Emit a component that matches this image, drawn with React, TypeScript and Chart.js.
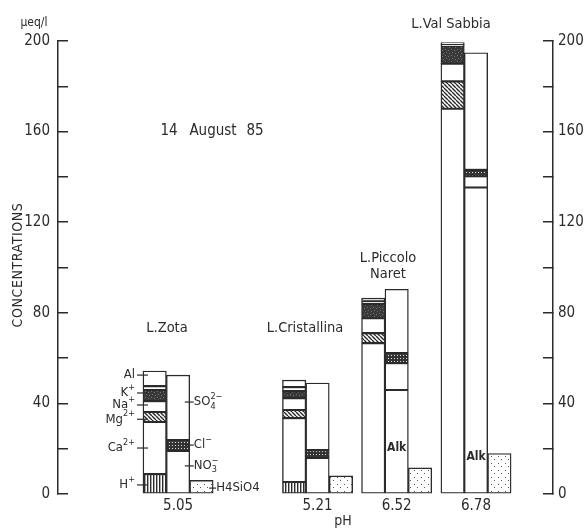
import React, { useEffect, useRef } from "react";
import { Chart, registerables } from "chart.js";

Chart.register(...registerables);

// ---------- data (µeq/l) ----------
const LAKES = ["L.Zota", "L.Cristallina", "L.Piccolo Naret", "L.Val Sabbia"];
const PH_LABELS = ["5.05", "5.21", "6.52", "6.78"];
const DATE_LABEL = ["14", "August", "85"];

// cations (bottom → top)
const H_ION = [8.8, 5.3, null, null];
const CA = [23.0, 28.2, 66.6, 170.1];
const MG = [4.4, 3.6, 4.4, 12.1];
const NA = [4.8, 5.2, 6.6, 7.8];
const K_ION = [4.9, 3.1, 6.2, 7.8];
const NH4 = [1.7, 1.8, 1.3, 0.6];
const AL = [6.7, 3.1, 1.4, 0.9];
// anions (bottom → top)
const ALK = [null, null, 45.9, 135.3];
const NO3 = [19.0, 15.9, 11.9, 5.0];
const CL = [4.8, 3.5, 4.4, 2.8];
const SO4 = [28.7, 29.6, 28.2, 51.7];
// silica
const H4SIO4 = [6.0, 8.0, 11.5, 17.9];

const Y_MIN = 0;
const Y_MAX = 200;
const Y_STEP = 20;
const Y_LABEL_STEP = 40;

// ---------- layout ----------
const W = 584;
const H = 530;
const FONT = "'DejaVu Sans Condensed', 'Liberation Sans', sans-serif";
const INK = "#2b2b2b";
const LAKE_AXIS_POS = [5.13, 11.09, 14.47, 17.86]; // anion-bar centre of each lake, in bar-width units
const X_MAX = 21.15;
const ALK_LABEL_AT = [null, null, 20.5, 16.5];
// where the ion names of the first lake sit (value units)
const CATION_LABEL_AT: Record<string, number> = { "H+": 4.0, "Ca2+": 20.3, "Mg2+": 33.0, "Na+": 39.3, "K+": 44.6, Al: 52.5 };
const ANION_LABEL_AT: Record<string, number> = { "NO3-": 12.4, "Cl-": 21.6, "SO4 2-": 40.6 };
const SILICA_LABEL_AT = 2.6;

function makePattern(kind: string): CanvasPattern | string {
  const c = document.createElement("canvas");
  const g = c.getContext("2d");
  if (!g) return "#fff";
  if (kind === "dark") {
    c.width = 6; c.height = 6;
    g.fillStyle = "#3a3a3a"; g.fillRect(0, 0, 6, 6);
    g.fillStyle = "#6e6e6e";
    g.fillRect(1, 1, 1, 1); g.fillRect(4, 2, 1, 1); g.fillRect(2, 4, 1, 1); g.fillRect(5, 5, 1, 1);
  } else if (kind === "diag") {
    c.width = 4; c.height = 4;
    g.fillStyle = "#fff"; g.fillRect(0, 0, 4, 4);
    g.strokeStyle = INK; g.lineWidth = 1.4;
    g.beginPath();
    for (const o of [-4, 0, 4]) { g.moveTo(o, 0); g.lineTo(o + 4, 4); }
    g.stroke();
  } else if (kind === "check") {
    c.width = 3; c.height = 3;
    g.fillStyle = "#333"; g.fillRect(0, 0, 3, 3);
    g.fillStyle = "#ddd"; g.fillRect(1, 1, 1, 1);
  } else if (kind === "vert") {
    c.width = 3; c.height = 3;
    g.fillStyle = "#fff"; g.fillRect(0, 0, 3, 3);
    g.fillStyle = INK; g.fillRect(0, 0, 1.4, 3);
  } else if (kind === "dots") {
    c.width = 7; c.height = 7;
    g.fillStyle = "#fff"; g.fillRect(0, 0, 7, 7);
    g.fillStyle = "#555";
    g.fillRect(1, 1, 1, 1); g.fillRect(4, 4, 1, 1);
  } else {
    return "#fff";
  }
  return g.createPattern(c, "repeat") || "#fff";
}

type Piece = { t: string; sub?: string; sup?: string };

function drawChem(ctx: CanvasRenderingContext2D, pieces: Piece[], x: number, y: number, align: "left" | "right", size: number) {
  const base = `${size}px ${FONT}`;
  const small = `${Math.round(size * 0.72)}px ${FONT}`;
  let w = 0;
  for (const p of pieces) {
    ctx.font = base; w += ctx.measureText(p.t).width;
    ctx.font = small;
    w += Math.max(p.sub ? ctx.measureText(p.sub).width : 0, p.sup ? ctx.measureText(p.sup).width : 0);
  }
  let cx = align === "right" ? x - w : x;
  ctx.textAlign = "left";
  ctx.textBaseline = "middle";
  for (const p of pieces) {
    ctx.font = base; ctx.fillText(p.t, cx, y); cx += ctx.measureText(p.t).width;
    ctx.font = small;
    if (p.sup) ctx.fillText(p.sup, cx, y - size * 0.42);
    if (p.sub) ctx.fillText(p.sub, cx, y + size * 0.32);
    cx += Math.max(p.sub ? ctx.measureText(p.sub).width : 0, p.sup ? ctx.measureText(p.sup).width : 0);
  }
}

export default function App() {
  const ref = useRef<HTMLCanvasElement | null>(null);

  useEffect(() => {
    if (!ref.current) return;
    const pat = {
      dark: makePattern("dark"),
      diag: makePattern("diag"),
      check: makePattern("check"),
      vert: makePattern("vert"),
      dots: makePattern("dots"),
    };

    const series = (name: string, values: (number | null)[], offset: number, fill: any, group: string) => ({
      label: name,
      data: values.map((v, i) => ({ x: LAKE_AXIS_POS[i] + offset, y: v })),
      backgroundColor: fill,
      borderColor: INK,
      borderWidth: 1.4,
      borderSkipped: false,
      grouped: false,
      stack: group,
      barPercentage: 1,
      categoryPercentage: 1,
    });

    const cations = [
      { name: "H+", v: H_ION, fill: pat.vert, lab: [{ t: "H", sup: "+" }] },
      { name: "Ca2+", v: CA, fill: "#fff", lab: [{ t: "Ca", sup: "2+" }] },
      { name: "Mg2+", v: MG, fill: pat.diag, lab: [{ t: "Mg", sup: "2+" }] },
      { name: "Na+", v: NA, fill: "#fff", lab: [{ t: "Na", sup: "+" }] },
      { name: "K+", v: K_ION, fill: pat.dark, lab: [{ t: "K", sup: "+" }] },
      { name: "NH4+", v: NH4, fill: "#fff", lab: null },
      { name: "Al", v: AL, fill: "#fff", lab: [{ t: "Al" }] },
    ];
    const anions = [
      { name: "Alk", v: ALK, fill: "#fff", lab: null },
      { name: "NO3-", v: NO3, fill: "#fff", lab: [{ t: "NO", sub: "3", sup: "\u2212" }] },
      { name: "Cl-", v: CL, fill: pat.check, lab: [{ t: "Cl", sup: "\u2212" }] },
      { name: "SO4 2-", v: SO4, fill: "#fff", lab: [{ t: "SO", sub: "4", sup: "2\u2212" }] },
    ];

    const datasets = [
      ...cations.map((c) => series(c.name, c.v, -1, c.fill, "cat")),
      ...anions.map((a) => series(a.name, a.v, 0, a.fill, "an")),
      series("H4SiO4", H4SIO4, 1, pat.dots, "si"),
    ];

    const annotate = {
      id: "annotate",
      afterDraw(chart: any) {
        const ctx: CanvasRenderingContext2D = chart.ctx;
        const xs = chart.scales.x;
        const ys = chart.scales.y;
        ctx.save();
        ctx.fillStyle = INK;
        ctx.strokeStyle = INK;
        ctx.lineWidth = 1.2;

        // unit + axis title
        ctx.font = `12px ${FONT}`;
        ctx.textAlign = "center";
        ctx.textBaseline = "middle";
        ctx.fillText("\u00b5eq/l", 34, 23);
        ctx.save();
        ctx.translate(18, 265);
        ctx.rotate(-Math.PI / 2);
        ctx.font = `14px ${FONT}`;
        (ctx as any).letterSpacing = "0.6px";
        ctx.fillText("CONCENTRATIONS", 0, 0);
        ctx.restore();

        // date
        ctx.font = `15px ${FONT}`;
        const dateX = [169, 213, 255];
        DATE_LABEL.forEach((t, i) => ctx.fillText(t, dateX[i], 131));

        // lake names
        ctx.font = `14.5px ${FONT}`;
        ctx.fillText(LAKES[0], 167, 328);
        ctx.fillText(LAKES[1], 305, 328);
        const pn = LAKES[2].split(" ");
        ctx.fillText(pn[0], 388, 258);
        ctx.fillText(pn[1], 388, 274);
        ctx.fillText(LAKES[3], 451, 24);

        // pH axis title
        ctx.font = `14px ${FONT}`;
        ctx.fillText("pH", 343, 521);

        // Alk labels
        ctx.font = `bold 12px ${FONT}`;
        ALK_LABEL_AT.forEach((v, i) => {
          if (v == null || ALK[i] == null) return;
          ctx.fillText("Alk", xs.getPixelForValue(LAKE_AXIS_POS[i]), ys.getPixelForValue(v));
        });

        // ion labels on first lake
        const c0 = LAKE_AXIS_POS[0];
        const xl = xs.getPixelForValue(c0 - 1.5);
        cations.forEach((c) => {
          if (!c.lab || c.v[0] == null) return;
          const yy = ys.getPixelForValue(CATION_LABEL_AT[c.name]);
          ctx.beginPath(); ctx.moveTo(xl - 6, yy); ctx.lineTo(xl + 5, yy); ctx.stroke();
          drawChem(ctx, c.lab as Piece[], xl - 8, yy, "right", 13);
        });
        const xr = xs.getPixelForValue(c0 + 0.5);
        anions.forEach((a) => {
          if (!a.lab || a.v[0] == null) return;
          const yy = ys.getPixelForValue(ANION_LABEL_AT[a.name]);
          ctx.beginPath(); ctx.moveTo(xr - 5, yy); ctx.lineTo(xr + 4, yy); ctx.stroke();
          drawChem(ctx, a.lab as Piece[], xr + 4, yy, "left", 13);
        });
        const xsi = xs.getPixelForValue(c0 + 1.5);
        const ymid = ys.getPixelForValue(SILICA_LABEL_AT);
        ctx.beginPath(); ctx.moveTo(xsi - 4, ymid); ctx.lineTo(xsi + 3, ymid); ctx.stroke();
        drawChem(ctx, [{ t: "H4SiO4" }], xsi + 3, ymid, "left", 13);
        ctx.restore();
      },
    };

    const yAxis = (position: "left" | "right", width: number, padding: number) => ({
      type: "linear" as const,
      position,
      min: Y_MIN,
      max: Y_MAX,
      stacked: true,
      display: true,
      afterFit: (s: any) => { s.width = width; },
      border: { display: true, color: INK, width: 1.5 },
      grid: { drawOnChartArea: false, drawTicks: true, tickLength: -10, color: INK, lineWidth: 1.5 },
      ticks: {
        stepSize: Y_STEP,
        padding,
        color: INK,
        font: { family: FONT, size: 15 },
        callback: (v: any) => (Number(v) % Y_LABEL_STEP === 0 ? String(v) : ""),
      },
    });

    const chart = new Chart(ref.current, {
      type: "bar",
      data: { datasets: datasets as any },
      options: {
        animation: false,
        responsive: false,
        devicePixelRatio: 1,
        layout: { padding: { top: 41, bottom: 0, left: 0, right: 0 } },
        plugins: { legend: { display: false }, tooltip: { enabled: false } },
        scales: {
          x: {
            type: "linear",
            min: 0,
            max: X_MAX,
            offset: false,
            grid: { display: false },
            border: { display: false },
            afterFit: (s: any) => { s.height = 36; },
            afterBuildTicks: (s: any) => { s.ticks = LAKE_AXIS_POS.map((v) => ({ value: v })); },
            ticks: {
              autoSkip: false,
              padding: -5,
              color: INK,
              font: { family: FONT, size: 15 },
              callback: (_v: any, i: number) => PH_LABELS[i],
            },
          },
          y: yAxis("left", 58, 18),
          y2: yAxis("right", 31, 15),
        },
      } as any,
      plugins: [annotate],
    });
    return () => chart.destroy();
  }, []);

  return (
    <div style={{ position: "fixed", left: 0, top: 0, width: W, height: H, background: "#fff" }}>
      <canvas ref={ref} width={W} height={H} style={{ display: "block", width: W, height: H }} />
    </div>
  );
}
